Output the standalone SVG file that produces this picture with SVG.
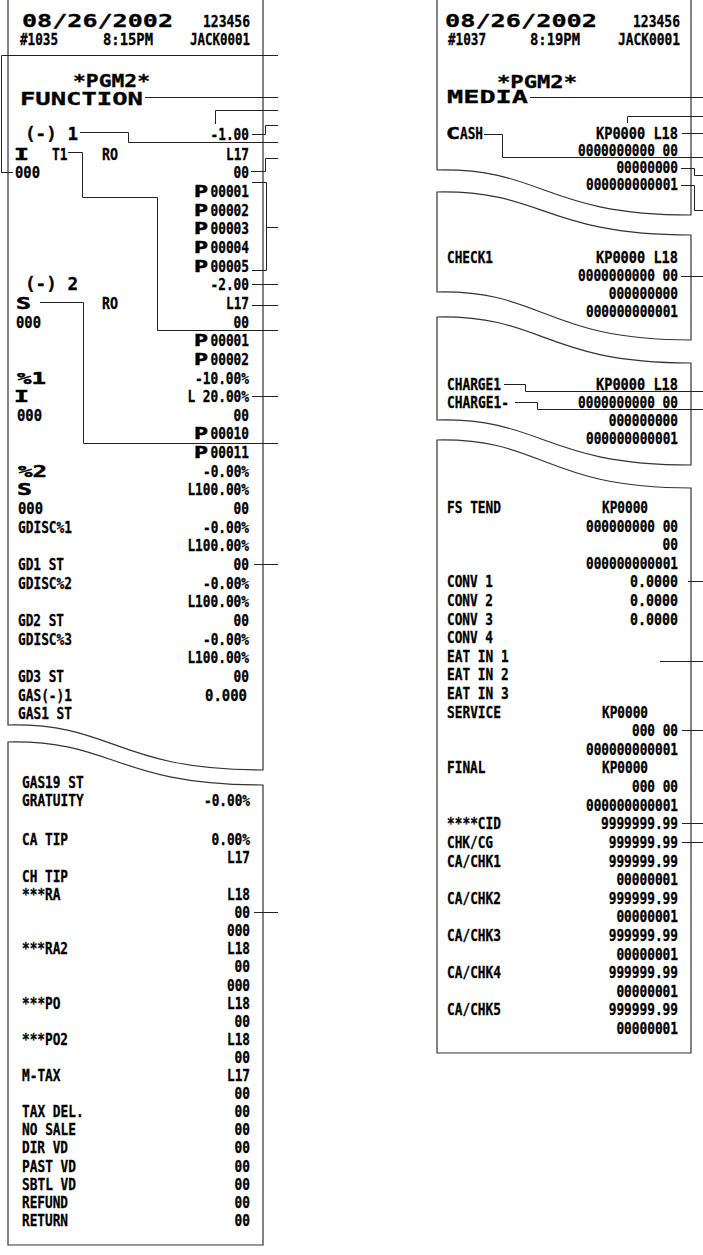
<svg xmlns="http://www.w3.org/2000/svg" width="703" height="1255" viewBox="0 0 703 1255">
<style>
.t{font-family:'DejaVu Sans Mono','Liberation Mono',monospace;font-weight:bold;font-size:16px;fill:#000;stroke:#000;stroke-width:0.3}
.b{font-size:18px}
.m{stroke-width:0.5}
.r{text-anchor:end}
.ln{fill:none;stroke:#222;stroke-width:1}
.pp{fill:#fff;stroke:#333;stroke-width:1.2}
</style>
<rect width="703" height="1255" fill="#fff"/>
<g id="paper">
<path id="left-top-paper" class="pp" d="M8,-2 V725 C115,723 115,770 263,770 V-2"/>
<path id="left-bottom-paper" class="pp" d="M8,742 C115,740 115,785 263,785 V1245 H8 Z"/>
<path id="right-cash-paper" class="pp" d="M437,-2 V170 C544,168 544,215 691,215 V-2"/>
<path id="right-check-paper" class="pp" d="M437,192 C544,190 544,235 691,235 V340 C544,340 544,290 437,292 Z"/>
<path id="right-charge-paper" class="pp" d="M437,317 C544,315 544,363 691,363 V465 C544,465 544,418 437,420 Z"/>
<path id="right-media-paper" class="pp" d="M437,440 C544,438 544,488 691,488 V1053 H437 Z"/>
</g>
<g id="left-header">
<text class="t b" x="22" y="27" textLength="151" lengthAdjust="spacingAndGlyphs">08/26/2002</text>
<text class="t r" x="250" y="27" textLength="47" lengthAdjust="spacingAndGlyphs">123456</text>
<text class="t" x="20" y="45" textLength="38" lengthAdjust="spacingAndGlyphs">#1035</text>
<text class="t" x="103" y="45" textLength="50" lengthAdjust="spacingAndGlyphs">8:15PM</text>
<text class="t r" x="250" y="45" textLength="60" lengthAdjust="spacingAndGlyphs">JACK0001</text>
<text class="t b" x="73" y="87" textLength="77" lengthAdjust="spacingAndGlyphs">*PGM2*</text>
<text class="t b" x="20" y="105" textLength="123" lengthAdjust="spacingAndGlyphs">FUNCTION</text>
</g>
<g id="left-function-rows">
<text class="t b" x="25" y="140" textLength="53" lengthAdjust="spacingAndGlyphs">(-) 1</text>
<text class="t r" x="249" y="140" textLength="38.5" lengthAdjust="spacingAndGlyphs">-1.00</text>
<text class="t m" x="14" y="160" textLength="15" lengthAdjust="spacingAndGlyphs">I</text>
<text class="t" x="52" y="160" textLength="15.4" lengthAdjust="spacingAndGlyphs">T1</text>
<text class="t" x="102" y="160" textLength="16" lengthAdjust="spacingAndGlyphs">RO</text>
<text class="t r" x="249" y="160" textLength="23" lengthAdjust="spacingAndGlyphs">L17</text>
<text class="t" x="15" y="178" textLength="25" lengthAdjust="spacingAndGlyphs">000</text>
<text class="t r" x="249" y="178" textLength="15.4" lengthAdjust="spacingAndGlyphs">00</text>
<text class="t m" x="194" y="197" textLength="14" lengthAdjust="spacingAndGlyphs">P</text>
<text class="t r" x="249" y="197" textLength="38.5" lengthAdjust="spacingAndGlyphs">00001</text>
<text class="t m" x="194" y="216" textLength="14" lengthAdjust="spacingAndGlyphs">P</text>
<text class="t r" x="249" y="216" textLength="38.5" lengthAdjust="spacingAndGlyphs">00002</text>
<text class="t m" x="194" y="234" textLength="14" lengthAdjust="spacingAndGlyphs">P</text>
<text class="t r" x="249" y="234" textLength="38.5" lengthAdjust="spacingAndGlyphs">00003</text>
<text class="t m" x="194" y="253" textLength="14" lengthAdjust="spacingAndGlyphs">P</text>
<text class="t r" x="249" y="253" textLength="38.5" lengthAdjust="spacingAndGlyphs">00004</text>
<text class="t m" x="194" y="272" textLength="14" lengthAdjust="spacingAndGlyphs">P</text>
<text class="t r" x="249" y="272" textLength="38.5" lengthAdjust="spacingAndGlyphs">00005</text>
<text class="t b" x="25" y="290" textLength="53" lengthAdjust="spacingAndGlyphs">(-) 2</text>
<text class="t r" x="249" y="290" textLength="38.5" lengthAdjust="spacingAndGlyphs">-2.00</text>
<text class="t m" x="16" y="309" textLength="15" lengthAdjust="spacingAndGlyphs">S</text>
<text class="t" x="102" y="309" textLength="16" lengthAdjust="spacingAndGlyphs">RO</text>
<text class="t r" x="249" y="309" textLength="23" lengthAdjust="spacingAndGlyphs">L17</text>
<text class="t" x="16" y="328" textLength="25" lengthAdjust="spacingAndGlyphs">000</text>
<text class="t r" x="249" y="328" textLength="15.4" lengthAdjust="spacingAndGlyphs">00</text>
<text class="t m" x="194" y="346" textLength="14" lengthAdjust="spacingAndGlyphs">P</text>
<text class="t r" x="249" y="346" textLength="38.5" lengthAdjust="spacingAndGlyphs">00001</text>
<text class="t m" x="194" y="365" textLength="14" lengthAdjust="spacingAndGlyphs">P</text>
<text class="t r" x="249" y="365" textLength="38.5" lengthAdjust="spacingAndGlyphs">00002</text>
<text class="t m" x="17" y="384" textLength="29" lengthAdjust="spacingAndGlyphs">%1</text>
<text class="t r" x="249" y="384" textLength="54" lengthAdjust="spacingAndGlyphs">-10.00%</text>
<text class="t m" x="14" y="402" textLength="15" lengthAdjust="spacingAndGlyphs">I</text>
<text class="t r" x="249" y="402" textLength="61.6" lengthAdjust="spacingAndGlyphs">L 20.00%</text>
<text class="t" x="17" y="421" textLength="25" lengthAdjust="spacingAndGlyphs">000</text>
<text class="t r" x="249" y="421" textLength="15.4" lengthAdjust="spacingAndGlyphs">00</text>
<text class="t m" x="194" y="439" textLength="14" lengthAdjust="spacingAndGlyphs">P</text>
<text class="t r" x="249" y="439" textLength="38.5" lengthAdjust="spacingAndGlyphs">00010</text>
<text class="t m" x="194" y="458" textLength="14" lengthAdjust="spacingAndGlyphs">P</text>
<text class="t r" x="249" y="458" textLength="38.5" lengthAdjust="spacingAndGlyphs">00011</text>
<text class="t m" x="18" y="477" textLength="29" lengthAdjust="spacingAndGlyphs">%2</text>
<text class="t r" x="249" y="477" textLength="46" lengthAdjust="spacingAndGlyphs">-0.00%</text>
<text class="t m" x="17" y="495" textLength="15" lengthAdjust="spacingAndGlyphs">S</text>
<text class="t r" x="249" y="495" textLength="61.6" lengthAdjust="spacingAndGlyphs">L100.00%</text>
<text class="t" x="18" y="514" textLength="25" lengthAdjust="spacingAndGlyphs">000</text>
<text class="t r" x="249" y="514" textLength="15.4" lengthAdjust="spacingAndGlyphs">00</text>
<text class="t" x="18" y="533" textLength="54" lengthAdjust="spacingAndGlyphs">GDISC%1</text>
<text class="t r" x="249" y="533" textLength="46" lengthAdjust="spacingAndGlyphs">-0.00%</text>
<text class="t r" x="249" y="551" textLength="61.6" lengthAdjust="spacingAndGlyphs">L100.00%</text>
<text class="t" x="18" y="570" textLength="46" lengthAdjust="spacingAndGlyphs">GD1 ST</text>
<text class="t r" x="249" y="570" textLength="15.4" lengthAdjust="spacingAndGlyphs">00</text>
<text class="t" x="18" y="589" textLength="54" lengthAdjust="spacingAndGlyphs">GDISC%2</text>
<text class="t r" x="249" y="589" textLength="46" lengthAdjust="spacingAndGlyphs">-0.00%</text>
<text class="t r" x="249" y="607" textLength="61.6" lengthAdjust="spacingAndGlyphs">L100.00%</text>
<text class="t" x="18" y="626" textLength="46" lengthAdjust="spacingAndGlyphs">GD2 ST</text>
<text class="t r" x="249" y="626" textLength="15.4" lengthAdjust="spacingAndGlyphs">00</text>
<text class="t" x="18" y="645" textLength="54" lengthAdjust="spacingAndGlyphs">GDISC%3</text>
<text class="t r" x="249" y="645" textLength="46" lengthAdjust="spacingAndGlyphs">-0.00%</text>
<text class="t r" x="249" y="663" textLength="61.6" lengthAdjust="spacingAndGlyphs">L100.00%</text>
<text class="t" x="18" y="682" textLength="46" lengthAdjust="spacingAndGlyphs">GD3 ST</text>
<text class="t r" x="249" y="682" textLength="15.4" lengthAdjust="spacingAndGlyphs">00</text>
<text class="t" x="18" y="701" textLength="54" lengthAdjust="spacingAndGlyphs">GAS(-)1</text>
<text class="t r" x="247" y="701" textLength="42" lengthAdjust="spacingAndGlyphs">0.000</text>
<text class="t" x="18" y="719" textLength="54" lengthAdjust="spacingAndGlyphs">GAS1 ST</text>
</g>
<g id="left-lower-rows">
<text class="t" x="22" y="788" textLength="61.6" lengthAdjust="spacingAndGlyphs">GAS19 ST</text>
<text class="t" x="22" y="806" textLength="61.6" lengthAdjust="spacingAndGlyphs">GRATUITY</text>
<text class="t r" x="250" y="806" textLength="46" lengthAdjust="spacingAndGlyphs">-0.00%</text>
<text class="t" x="22" y="845" textLength="46" lengthAdjust="spacingAndGlyphs">CA TIP</text>
<text class="t r" x="250" y="845" textLength="38.5" lengthAdjust="spacingAndGlyphs">0.00%</text>
<text class="t r" x="250" y="863" textLength="23" lengthAdjust="spacingAndGlyphs">L17</text>
<text class="t" x="22" y="882" textLength="46" lengthAdjust="spacingAndGlyphs">CH TIP</text>
<text class="t" x="22" y="900" textLength="38.5" lengthAdjust="spacingAndGlyphs">***RA</text>
<text class="t r" x="250" y="900" textLength="23" lengthAdjust="spacingAndGlyphs">L18</text>
<text class="t r" x="250" y="918" textLength="15.4" lengthAdjust="spacingAndGlyphs">00</text>
<text class="t r" x="250" y="936" textLength="23" lengthAdjust="spacingAndGlyphs">000</text>
<text class="t" x="22" y="954" textLength="46" lengthAdjust="spacingAndGlyphs">***RA2</text>
<text class="t r" x="250" y="954" textLength="23" lengthAdjust="spacingAndGlyphs">L18</text>
<text class="t r" x="250" y="972" textLength="15.4" lengthAdjust="spacingAndGlyphs">00</text>
<text class="t r" x="250" y="991" textLength="23" lengthAdjust="spacingAndGlyphs">000</text>
<text class="t" x="22" y="1009" textLength="38.5" lengthAdjust="spacingAndGlyphs">***PO</text>
<text class="t r" x="250" y="1009" textLength="23" lengthAdjust="spacingAndGlyphs">L18</text>
<text class="t r" x="250" y="1027" textLength="15.4" lengthAdjust="spacingAndGlyphs">00</text>
<text class="t" x="22" y="1045" textLength="46" lengthAdjust="spacingAndGlyphs">***PO2</text>
<text class="t r" x="250" y="1045" textLength="23" lengthAdjust="spacingAndGlyphs">L18</text>
<text class="t r" x="250" y="1063" textLength="15.4" lengthAdjust="spacingAndGlyphs">00</text>
<text class="t" x="22" y="1081" textLength="38.5" lengthAdjust="spacingAndGlyphs">M-TAX</text>
<text class="t r" x="250" y="1081" textLength="23" lengthAdjust="spacingAndGlyphs">L17</text>
<text class="t r" x="250" y="1099" textLength="15.4" lengthAdjust="spacingAndGlyphs">00</text>
<text class="t" x="22" y="1117" textLength="61.6" lengthAdjust="spacingAndGlyphs">TAX DEL.</text>
<text class="t r" x="250" y="1117" textLength="15.4" lengthAdjust="spacingAndGlyphs">00</text>
<text class="t" x="22" y="1135" textLength="54" lengthAdjust="spacingAndGlyphs">NO SALE</text>
<text class="t r" x="250" y="1135" textLength="15.4" lengthAdjust="spacingAndGlyphs">00</text>
<text class="t" x="22" y="1153" textLength="46" lengthAdjust="spacingAndGlyphs">DIR VD</text>
<text class="t r" x="250" y="1153" textLength="15.4" lengthAdjust="spacingAndGlyphs">00</text>
<text class="t" x="22" y="1172" textLength="54" lengthAdjust="spacingAndGlyphs">PAST VD</text>
<text class="t r" x="250" y="1172" textLength="15.4" lengthAdjust="spacingAndGlyphs">00</text>
<text class="t" x="22" y="1190" textLength="54" lengthAdjust="spacingAndGlyphs">SBTL VD</text>
<text class="t r" x="250" y="1190" textLength="15.4" lengthAdjust="spacingAndGlyphs">00</text>
<text class="t" x="22" y="1208" textLength="46" lengthAdjust="spacingAndGlyphs">REFUND</text>
<text class="t r" x="250" y="1208" textLength="15.4" lengthAdjust="spacingAndGlyphs">00</text>
<text class="t" x="22" y="1226" textLength="46" lengthAdjust="spacingAndGlyphs">RETURN</text>
<text class="t r" x="250" y="1226" textLength="15.4" lengthAdjust="spacingAndGlyphs">00</text>
</g>
<g id="right-header">
<text class="t b" x="445" y="27" textLength="152" lengthAdjust="spacingAndGlyphs">08/26/2002</text>
<text class="t r" x="680" y="27" textLength="47" lengthAdjust="spacingAndGlyphs">123456</text>
<text class="t" x="448" y="45" textLength="38" lengthAdjust="spacingAndGlyphs">#1037</text>
<text class="t" x="530" y="45" textLength="50" lengthAdjust="spacingAndGlyphs">8:19PM</text>
<text class="t r" x="680" y="45" textLength="62" lengthAdjust="spacingAndGlyphs">JACK0001</text>
<text class="t b" x="497" y="88" textLength="80" lengthAdjust="spacingAndGlyphs">*PGM2*</text>
<text class="t b" x="447" y="103" textLength="81" lengthAdjust="spacingAndGlyphs">MEDIA</text>
</g>
<g id="right-cash">
<text class="t m" x="446" y="139" textLength="14" lengthAdjust="spacingAndGlyphs">C</text>
<text class="t" x="460" y="139" textLength="23" lengthAdjust="spacingAndGlyphs">ASH</text>
<text class="t r" x="678" y="139" textLength="82" lengthAdjust="spacingAndGlyphs">KP0000 L18</text>
<text class="t r" x="678" y="156" textLength="100" lengthAdjust="spacingAndGlyphs">0000000000 00</text>
<text class="t r" x="678" y="173" textLength="61.6" lengthAdjust="spacingAndGlyphs">00000000</text>
<text class="t r" x="678" y="190" textLength="92" lengthAdjust="spacingAndGlyphs">000000000001</text>
</g>
<g id="right-check">
<text class="t" x="447" y="263" textLength="46" lengthAdjust="spacingAndGlyphs">CHECK1</text>
<text class="t r" x="678" y="263" textLength="82" lengthAdjust="spacingAndGlyphs">KP0000 L18</text>
<text class="t r" x="678" y="281" textLength="100" lengthAdjust="spacingAndGlyphs">0000000000 00</text>
<text class="t r" x="678" y="299" textLength="69.3" lengthAdjust="spacingAndGlyphs">000000000</text>
<text class="t r" x="678" y="317" textLength="92" lengthAdjust="spacingAndGlyphs">000000000001</text>
</g>
<g id="right-charge">
<text class="t" x="447" y="390" textLength="54" lengthAdjust="spacingAndGlyphs">CHARGE1</text>
<text class="t r" x="678" y="390" textLength="82" lengthAdjust="spacingAndGlyphs">KP0000 L18</text>
<text class="t" x="447" y="408" textLength="62" lengthAdjust="spacingAndGlyphs">CHARGE1-</text>
<text class="t r" x="678" y="408" textLength="100" lengthAdjust="spacingAndGlyphs">0000000000 00</text>
<text class="t r" x="678" y="426" textLength="69.3" lengthAdjust="spacingAndGlyphs">000000000</text>
<text class="t r" x="678" y="444" textLength="92" lengthAdjust="spacingAndGlyphs">000000000001</text>
</g>
<g id="right-media">
<text class="t" x="447" y="513" textLength="54" lengthAdjust="spacingAndGlyphs">FS TEND</text>
<text class="t" x="602" y="513" textLength="46" lengthAdjust="spacingAndGlyphs">KP0000</text>
<text class="t r" x="678" y="532" textLength="92" lengthAdjust="spacingAndGlyphs">000000000 00</text>
<text class="t r" x="678" y="550" textLength="15.4" lengthAdjust="spacingAndGlyphs">00</text>
<text class="t r" x="678" y="569" textLength="92" lengthAdjust="spacingAndGlyphs">000000000001</text>
<text class="t" x="447" y="587" textLength="46" lengthAdjust="spacingAndGlyphs">CONV 1</text>
<text class="t r" x="678" y="587" textLength="48" lengthAdjust="spacingAndGlyphs">0.0000</text>
<text class="t" x="447" y="606" textLength="46" lengthAdjust="spacingAndGlyphs">CONV 2</text>
<text class="t r" x="678" y="606" textLength="48" lengthAdjust="spacingAndGlyphs">0.0000</text>
<text class="t" x="447" y="625" textLength="46" lengthAdjust="spacingAndGlyphs">CONV 3</text>
<text class="t r" x="678" y="625" textLength="48" lengthAdjust="spacingAndGlyphs">0.0000</text>
<text class="t" x="447" y="643" textLength="46" lengthAdjust="spacingAndGlyphs">CONV 4</text>
<text class="t" x="447" y="662" textLength="61.6" lengthAdjust="spacingAndGlyphs">EAT IN 1</text>
<text class="t" x="447" y="680" textLength="61.6" lengthAdjust="spacingAndGlyphs">EAT IN 2</text>
<text class="t" x="447" y="699" textLength="61.6" lengthAdjust="spacingAndGlyphs">EAT IN 3</text>
<text class="t" x="447" y="718" textLength="54" lengthAdjust="spacingAndGlyphs">SERVICE</text>
<text class="t" x="602" y="718" textLength="46" lengthAdjust="spacingAndGlyphs">KP0000</text>
<text class="t r" x="678" y="736" textLength="46" lengthAdjust="spacingAndGlyphs">000 00</text>
<text class="t r" x="678" y="755" textLength="92" lengthAdjust="spacingAndGlyphs">000000000001</text>
<text class="t" x="447" y="773" textLength="38.5" lengthAdjust="spacingAndGlyphs">FINAL</text>
<text class="t" x="602" y="773" textLength="46" lengthAdjust="spacingAndGlyphs">KP0000</text>
<text class="t r" x="678" y="792" textLength="46" lengthAdjust="spacingAndGlyphs">000 00</text>
<text class="t r" x="678" y="811" textLength="92" lengthAdjust="spacingAndGlyphs">000000000001</text>
<text class="t" x="447" y="829" textLength="54" lengthAdjust="spacingAndGlyphs">****CID</text>
<text class="t r" x="678" y="829" textLength="77" lengthAdjust="spacingAndGlyphs">9999999.99</text>
<text class="t" x="447" y="848" textLength="46" lengthAdjust="spacingAndGlyphs">CHK/CG</text>
<text class="t r" x="678" y="848" textLength="69.3" lengthAdjust="spacingAndGlyphs">999999.99</text>
<text class="t" x="447" y="867" textLength="54" lengthAdjust="spacingAndGlyphs">CA/CHK1</text>
<text class="t r" x="678" y="867" textLength="69.3" lengthAdjust="spacingAndGlyphs">999999.99</text>
<text class="t r" x="678" y="885" textLength="61.6" lengthAdjust="spacingAndGlyphs">00000001</text>
<text class="t" x="447" y="904" textLength="54" lengthAdjust="spacingAndGlyphs">CA/CHK2</text>
<text class="t r" x="678" y="904" textLength="69.3" lengthAdjust="spacingAndGlyphs">999999.99</text>
<text class="t r" x="678" y="922" textLength="61.6" lengthAdjust="spacingAndGlyphs">00000001</text>
<text class="t" x="447" y="941" textLength="54" lengthAdjust="spacingAndGlyphs">CA/CHK3</text>
<text class="t r" x="678" y="941" textLength="69.3" lengthAdjust="spacingAndGlyphs">999999.99</text>
<text class="t r" x="678" y="960" textLength="61.6" lengthAdjust="spacingAndGlyphs">00000001</text>
<text class="t" x="447" y="978" textLength="54" lengthAdjust="spacingAndGlyphs">CA/CHK4</text>
<text class="t r" x="678" y="978" textLength="69.3" lengthAdjust="spacingAndGlyphs">999999.99</text>
<text class="t r" x="678" y="997" textLength="61.6" lengthAdjust="spacingAndGlyphs">00000001</text>
<text class="t" x="447" y="1015" textLength="54" lengthAdjust="spacingAndGlyphs">CA/CHK5</text>
<text class="t r" x="678" y="1015" textLength="69.3" lengthAdjust="spacingAndGlyphs">999999.99</text>
<text class="t r" x="678" y="1034" textLength="61.6" lengthAdjust="spacingAndGlyphs">00000001</text>
</g>
<g id="connectors">
<path class="ln" d="M13,172.5 H1.5 V55.5 H278"/>
<path class="ln" d="M145,97.5 H278"/>
<path class="ln" d="M215.5,124 V110.5 H278"/>
<path class="ln" d="M252,134.5 H265.5 V125.5 H278"/>
<path class="ln" d="M80,132.5 H128.5 V142.5 H278"/>
<path class="ln" d="M251,171.5 H265.5 V158.5 H278"/>
<path class="ln" d="M68,152.5 H82.5 V197.5 H157.5 V330.5 H278"/>
<path class="ln" d="M252,182.5 H266.5 V270.5 H252 M266.5,227.5 H278"/>
<path class="ln" d="M252,284.5 H278"/>
<path class="ln" d="M252,305.5 H278"/>
<path class="ln" d="M40,302.5 H83.5 V443.5 H278"/>
<path class="ln" d="M252,396.5 H278"/>
<path class="ln" d="M254,564.5 H278"/>
<path class="ln" d="M254,912.5 H278"/>
<path class="ln" d="M530,97.5 H703"/>
<path class="ln" d="M627.5,123 V116.5 H703"/>
<path class="ln" d="M682,133.5 H703"/>
<path class="ln" d="M484,134.5 H502.5 V157.5 H703"/>
<path class="ln" d="M681,168.5 H694.5 V175.5 H703"/>
<path class="ln" d="M681,185.5 H694.5 V210.5 H703"/>
<path class="ln" d="M681,276.5 H703"/>
<path class="ln" d="M504,384.5 H525.5 V391.5 H703"/>
<path class="ln" d="M515,402.5 H537.5 V409.5 H703"/>
<path class="ln" d="M688,581.5 H703"/>
<path class="ln" d="M660,661.5 H703"/>
<path class="ln" d="M682,730.5 H703"/>
<path class="ln" d="M682,823.5 H703"/>
<path class="ln" d="M682,842.5 H703"/>
</g>
</svg>
